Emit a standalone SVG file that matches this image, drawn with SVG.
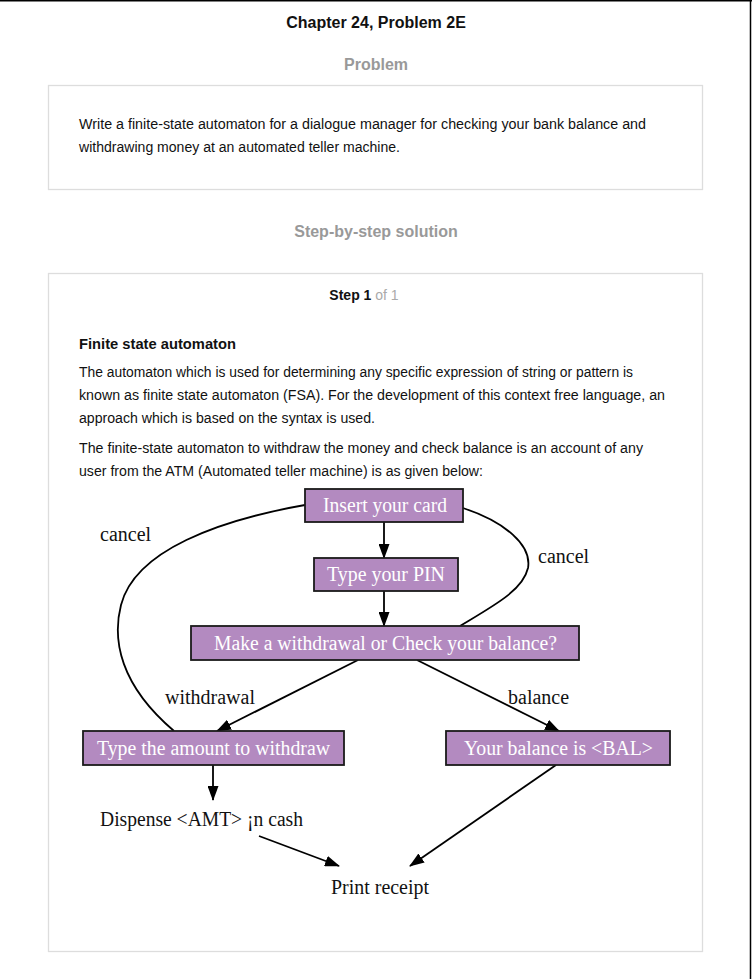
<svg xmlns="http://www.w3.org/2000/svg" width="752" height="979" viewBox="0 0 752 979">
<defs>
<style>
.sans{font-family:"Liberation Sans",Arial,sans-serif;}
.h{font-size:16px;font-weight:bold;text-anchor:middle;}
.gray{fill:#999999;}
.body{font-size:14px;fill:#111111;}
.box{fill:#ffffff;stroke:#dddddd;stroke-width:1.3;}
.node rect{fill:#b38ac0;stroke:#1a1a1a;stroke-width:1.8;}
.node text{font-family:"Liberation Serif","Times New Roman",serif;font-size:20px;fill:#ffffff;text-anchor:middle;}
.lbl{font-family:"Liberation Serif","Times New Roman",serif;font-size:20px;fill:#111111;}
.edge{fill:none;stroke:#000000;stroke-width:1.8;}
</style>
<marker id="arr" viewBox="0 0 15 11" refX="14" refY="5.5" markerWidth="15" markerHeight="11" markerUnits="userSpaceOnUse" orient="auto">
<path d="M0,0 L15,5.5 L0,11 z" fill="#000000"/>
</marker>
</defs>
<rect x="0" y="0" width="752" height="979" fill="#ffffff"/>
<line x1="0" y1="0.75" x2="752" y2="0.75" stroke="#000" stroke-width="1.5"/>
<line x1="750.5" y1="0" x2="750.5" y2="979" stroke="#000" stroke-width="1.5"/>

<text class="sans h" x="376" y="28" fill="#111">Chapter 24, Problem 2E</text>
<text class="sans h gray" x="376" y="70">Problem</text>
<rect class="box" x="48.5" y="85.5" width="654" height="104"/>
<text class="sans body" x="79" y="129" textLength="567" lengthAdjust="spacingAndGlyphs">Write a finite-state automaton for a dialogue manager for checking your bank balance and</text>
<text class="sans body" x="79" y="152" textLength="321" lengthAdjust="spacingAndGlyphs">withdrawing money at an automated teller machine.</text>

<text class="sans h gray" x="376" y="237">Step-by-step solution</text>
<rect class="box" x="48.5" y="273.5" width="654" height="678"/>
<text class="sans" x="364" y="300" font-size="14" text-anchor="middle"><tspan font-weight="bold" fill="#111">Step 1</tspan><tspan fill="#aaaaaa"> of 1</tspan></text>
<text class="sans body" x="79" y="349" font-weight="bold" textLength="157" lengthAdjust="spacingAndGlyphs">Finite state automaton</text>
<text class="sans body" x="79" y="377" textLength="554" lengthAdjust="spacingAndGlyphs">The automaton which is used for determining any specific expression of string or pattern is</text>
<text class="sans body" x="79" y="400" textLength="586" lengthAdjust="spacingAndGlyphs">known as finite state automaton (FSA). For the development of this context free language, an</text>
<text class="sans body" x="79" y="423" textLength="296" lengthAdjust="spacingAndGlyphs">approach which is based on the syntax is used.</text>
<text class="sans body" x="79" y="453" textLength="564" lengthAdjust="spacingAndGlyphs">The finite-state automaton to withdraw the money and check balance is an account of any</text>
<text class="sans body" x="79" y="476" textLength="404" lengthAdjust="spacingAndGlyphs">user from the ATM (Automated teller machine) is as given below:</text>

<g id="edges">
<path class="edge" d="M384,522 L384,558" marker-end="url(#arr)"/>
<path class="edge" d="M384,591 L384,626" marker-end="url(#arr)"/>
<path class="edge" d="M358,660 L217,731" marker-end="url(#arr)"/>
<path class="edge" d="M417,660 L559,731" marker-end="url(#arr)"/>
<path class="edge" d="M213,765 L213,800" marker-end="url(#arr)"/>
<path class="edge" d="M259,836 L339,866" marker-end="url(#arr)"/>
<path class="edge" d="M556,765 L410,866" marker-end="url(#arr)"/>
<path class="edge" d="M174,731 C120,685 112,640 121,605 C135,550 220,520 305,505"/>
<path class="edge" d="M463,508 C505,522 532,545 528,568 C523,590 495,605 460,626"/>
</g>

<g id="n-insert" class="node"><rect x="305" y="489" width="158" height="33"/><text x="385" y="512" textLength="124" lengthAdjust="spacingAndGlyphs">Insert your card</text></g>
<g id="n-pin" class="node"><rect x="314" y="558" width="144" height="33"/><text x="386" y="581" textLength="118" lengthAdjust="spacingAndGlyphs">Type your PIN</text></g>
<g id="n-choice" class="node"><rect x="191" y="626" width="388" height="34"/><text x="385.5" y="650" textLength="343" lengthAdjust="spacingAndGlyphs">Make a withdrawal or Check your balance?</text></g>
<g id="n-amount" class="node"><rect x="83" y="731" width="261" height="34"/><text x="213.5" y="755" textLength="233" lengthAdjust="spacingAndGlyphs">Type the amount to withdraw</text></g>
<g id="n-balance" class="node"><rect x="446" y="731" width="224" height="34"/><text x="558.5" y="755" textLength="189" lengthAdjust="spacingAndGlyphs">Your balance is &lt;BAL&gt;</text></g>
<g id="n-dispense"><text class="lbl" x="100" y="826" textLength="203" lengthAdjust="spacingAndGlyphs">Dispense &lt;AMT&gt; ¡n cash</text></g>
<g id="n-print"><text class="lbl" x="380" y="894" text-anchor="middle" textLength="98" lengthAdjust="spacingAndGlyphs">Print receipt</text></g>

<g id="labels">
<text class="lbl" x="100" y="541">cancel</text>
<text class="lbl" x="538" y="563">cancel</text>
<text class="lbl" x="165" y="704">withdrawal</text>
<text class="lbl" x="508" y="704">balance</text>
</g>
</svg>
